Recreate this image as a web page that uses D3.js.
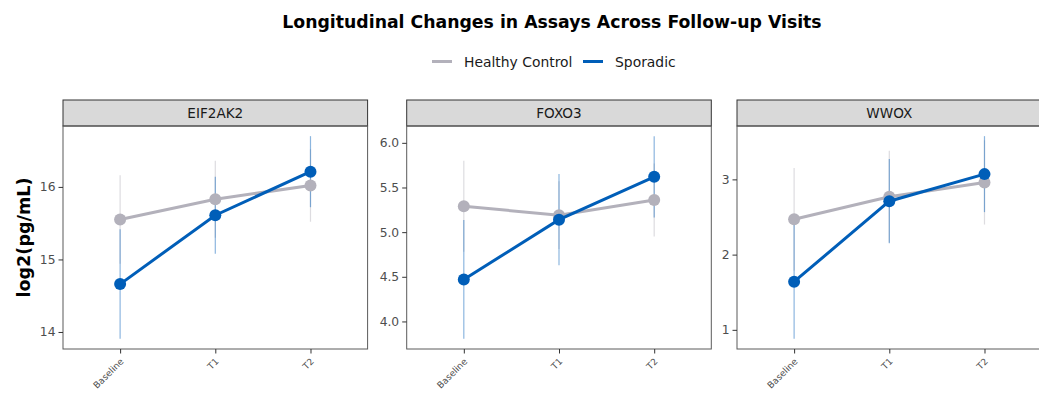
<!DOCTYPE html>
<html>
<head>
<meta charset="utf-8">
<script src="https://cdn.jsdelivr.net/npm/d3@7"></script>
<style>
  body { margin: 0; background: #fff; }
  text { font-family: "DejaVu Sans", sans-serif; }
</style>
</head>
<body>
<div id="viz"></div>
<script>
const visits = ['Baseline', 'T1', 'T2'],
    assays = ['EIF2AK2', 'FOXO3', 'WWOX'],
    groups = ['Healthy Control', 'Sporadic'];

// means and standard errors, one row per assay
const hcMean = [[15.55, 15.83, 16.02], [5.29, 5.19, 5.36], [2.47, 2.77, 2.96]],
    hcSE = [[0.61, 0.53, 0.50], [0.51, 0.38, 0.41], [0.68, 0.61, 0.56]],
    spMean = [[14.66, 15.61, 16.21], [4.47, 5.14, 5.62], [1.64, 2.71, 3.07]],
    spSE = [[0.755, 0.53, 0.49], [0.665, 0.51, 0.455], [0.76, 0.56, 0.505]];

const yTicks = [[14, 15, 16], [4, 4.5, 5, 5.5, 6], [1, 2, 3]],
    yFormats = ['d', '.1f', 'd'];

const colors = d3.scaleOrdinal().domain(groups).range(['#b3b1bb', '#005eb8']);

const svg = d3.select('#viz')
    .append('svg')
    .attr('width', 1039)
    .attr('height', 393);

const panelLeft = [63, 406.7, 737],
    panelWidth = 304.6,
    stripTop = 100,
    plotTop = 126,
    plotBottom = 349;

// title
svg.append('text')
    .attr('x', 552).attr('y', 28)
    .attr('text-anchor', 'middle')
    .style('font-size', '17.3px').style('font-weight', 'bold')
    .text('Longitudinal Changes in Assays Across Follow-up Visits');

// legend
const legendX = [432, 583];
groups.forEach(function(g, i) {
    svg.append('line')
        .attr('x1', legendX[i]).attr('x2', legendX[i] + 20)
        .attr('y1', 61.5).attr('y2', 61.5)
        .attr('stroke', colors(g)).attr('stroke-width', 3);
    svg.append('text')
        .attr('x', legendX[i] + 32).attr('y', 66.5)
        .style('font-size', '13.9px').attr('fill', '#1a1a1a')
        .text(g);
});

// y axis title
svg.append('text')
    .attr('transform', 'translate(30,' + (plotTop + plotBottom) / 2 + ') rotate(-90)')
    .attr('text-anchor', 'middle')
    .style('font-size', '17.6px').style('font-weight', 'bold')
    .text('log2(pg/mL)');

assays.forEach(function(assay, a) {
    const left = panelLeft[a];
    const series = [
        {group: groups[0], mean: hcMean[a], se: hcSE[a]},
        {group: groups[1], mean: spMean[a], se: spSE[a]}
    ];

    const lo = d3.min(series, s => d3.min(s.mean, (m, i) => m - s.se[i])),
        hi = d3.max(series, s => d3.max(s.mean, (m, i) => m + s.se[i])),
        pad = (hi - lo) * 0.05;

    const yScale = d3.scaleLinear()
        .domain([lo - pad, hi + pad])
        .range([plotBottom, plotTop]);

    const xScale = d3.scalePoint()
        .domain(visits)
        .range([left, left + panelWidth])
        .padding(0.6);

    const g = svg.append('g');

    // strip
    g.append('rect')
        .attr('x', left).attr('y', stripTop)
        .attr('width', panelWidth).attr('height', plotTop - stripTop)
        .attr('fill', '#d9d9d9').attr('stroke', '#333').attr('stroke-width', 1);
    g.append('text')
        .attr('x', left + panelWidth / 2).attr('y', 118)
        .attr('text-anchor', 'middle')
        .style('font-size', '13.6px').attr('fill', '#1a1a1a')
        .text(assay);

    // panel border
    g.append('rect')
        .attr('x', left).attr('y', plotTop)
        .attr('width', panelWidth).attr('height', plotBottom - plotTop)
        .attr('fill', 'none').attr('stroke', '#5a5a5a').attr('stroke-width', 1);

    // axes
    const yAxis = g.append('g')
        .attr('transform', 'translate(' + left + ',0)')
        .call(d3.axisLeft(yScale).tickValues(yTicks[a]).tickFormat(d3.format(yFormats[a])).tickSize(4.5).tickPadding(3));
    yAxis.select('.domain').remove();
    yAxis.selectAll('text').style('font-size', '12.3px').attr('fill', '#4d4d4d').style('font-family', '"DejaVu Sans", sans-serif');
    yAxis.selectAll('line').attr('stroke', '#333');

    const xAxis = g.append('g')
        .attr('transform', 'translate(0,' + plotBottom + ')')
        .call(d3.axisBottom(xScale).tickSize(4.5));
    xAxis.select('.domain').remove();
    xAxis.selectAll('line').attr('stroke', '#333');
    xAxis.selectAll('text')
        .style('font-size', '9px').attr('fill', '#4d4d4d').style('font-family', '"DejaVu Sans", sans-serif')
        .attr('text-anchor', 'end')
        .attr('dy', null)
        .attr('y', 0)
        .attr('transform', 'translate(3.5,13) rotate(-45)');

    // error bars
    series.forEach(function(s) {
        g.selectAll(null)
            .data(visits)
            .enter().append('line')
            .attr('x1', d => xScale(d)).attr('x2', d => xScale(d))
            .attr('y1', (d, i) => yScale(s.mean[i] - s.se[i]))
            .attr('y2', (d, i) => yScale(s.mean[i] + s.se[i]))
            .attr('stroke', colors(s.group))
            .attr('stroke-opacity', 0.45)
            .attr('stroke-width', 1.2);
    });

    const line = d3.line()
        .x((d, i) => xScale(visits[i]))
        .y(d => yScale(d));

    series.forEach(function(s) {
        g.append('path')
            .datum(s.mean)
            .attr('d', line)
            .attr('fill', 'none')
            .attr('stroke', colors(s.group))
            .attr('stroke-width', 3);
        g.selectAll(null)
            .data(s.mean)
            .enter().append('circle')
            .attr('cx', (d, i) => xScale(visits[i]))
            .attr('cy', d => yScale(d))
            .attr('r', 6)
            .attr('fill', colors(s.group));
    });
});
</script>
</body>
</html>
